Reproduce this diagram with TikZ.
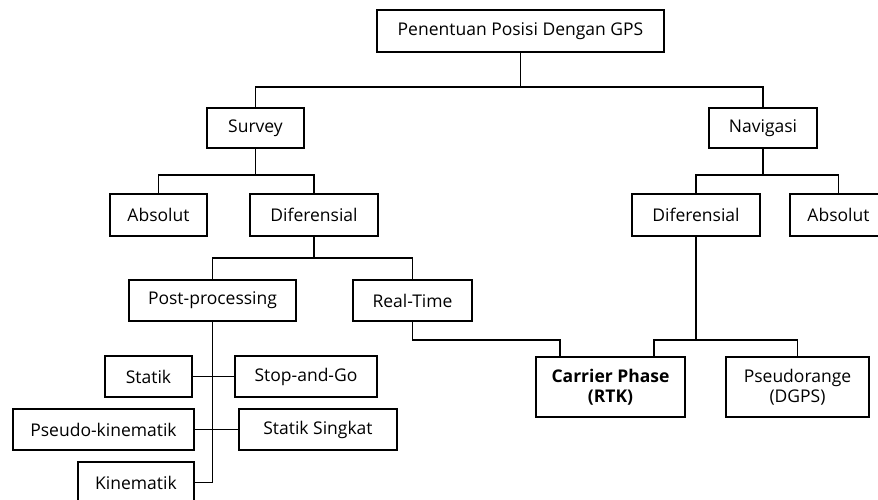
\documentclass[tikz,border=0pt]{standalone}
\usepackage{fontspec}
\setmainfont{Open Sans}
\usepackage{tikz}
\usetikzlibrary{positioning}

\begin{document}
\begin{tikzpicture}[x=1pt, y=-1pt, line width=1.8pt, text=black,
    box/.style={draw, rectangle, line width=1.8pt, inner sep=2pt, font=\fontsize{17.5}{20}\selectfont, align=center, minimum height=41pt}]
        \useasboundingbox (0,0) rectangle (878,500);
        \clip (0,0) rectangle (878,500);
        % Akar
        \node[box, minimum width=287pt, minimum height=42pt] (gps) at (520.5,31) {Penentuan Posisi Dengan GPS};

        % Tingkat kedua
        \node[box, minimum width=97pt, minimum height=40pt] (survey) at (255.5,128) {Survey};
        \node[box, minimum width=108pt, minimum height=40pt] (navigasi) at (763,128) {Navigasi};

        % Tingkat ketiga
        \node[box, minimum width=97pt, minimum height=42pt] (absolutS) at (158.5,215) {Absolut};
        \node[box, minimum width=128pt, minimum height=42pt] (difS) at (314,215) {Diferensial};
        \node[box, minimum width=128pt, minimum height=42pt] (difN) at (696,215) {Diferensial};
        \node[box, minimum width=97pt, minimum height=42pt] (absolutN) at (838.5,215) {Absolut};

        % Metode
        \node[box, minimum width=167pt] (post) at (212.5,300.5) {Post-processing};
        \node[box, minimum width=119pt] (realtime) at (412.5,300.5) {Real-Time};
        \node[box, minimum width=149pt, minimum height=60pt] (carrier) at (610.5,387) {\textbf{Carrier Phase}\\\textbf{(RTK)}};
        \node[box, minimum width=143pt, minimum height=60pt] (pseudorange) at (797.5,387) {Pseudorange\\(DGPS)};

        % Jenis post-processing
        \node[box, minimum width=87pt] (statik) at (148.5,376.5) {Statik};
        \node[box, minimum width=142pt] (stopgo) at (306,376.5) {Stop-and-Go};
        \node[box, minimum width=181pt] (pseudokin) at (103.5,429.5) {Pseudo-kinematik};
        \node[box, minimum width=158pt] (singkat) at (318,429.5) {Statik Singkat};
        \node[box, minimum width=116pt] (kinematik) at (136,482.5) {Kinematik};

        % Garis penghubung
        \draw (gps.south) -- ++(0,34) -| (survey.north);
        \draw (gps.south) -- ++(0,34) -| (navigasi.north);
        \draw (survey.south) -- ++(0,26) -| (absolutS.north);
        \draw (survey.south) -- ++(0,26) -| (difS.north);
        \draw (navigasi.south) -- ++(0,26) -| (difN.north);
        \draw (navigasi.south) -- ++(0,26) -| (absolutN.north);
        \draw (difS.south) -- ++(0,21) -| (post.north);
        \draw (difS.south) -- ++(0,21) -| (realtime.north);
        \draw (realtime.south) -- ++(0,18) -| ([xshift=25pt]carrier.north west);
        \draw (difN.south) -- ++(0,103) -| ([xshift=119pt]carrier.north west);
        \draw (difN.south) -- ++(0,103) -| (pseudorange.north);
        \draw (post.south) |- (kinematik.east);
        \draw (statik.east) -- (stopgo.west);
        \draw (pseudokin.east) -- (singkat.west);

    \end{tikzpicture}
\end{document}
